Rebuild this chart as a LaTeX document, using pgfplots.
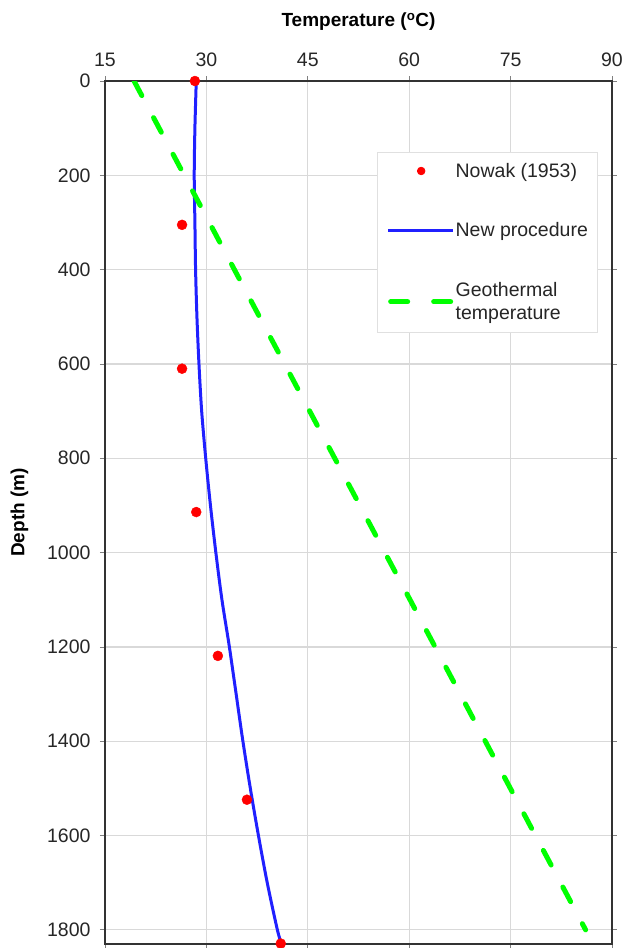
\documentclass[border=0pt]{standalone}
\usepackage{fontspec}
\setmainfont{Liberation Sans}
\usepackage{pgfplots}
\pgfplotsset{compat=1.18}
\definecolor{gridgray}{HTML}{D9D9D9}
\definecolor{geo}{HTML}{00FF00}
\definecolor{newp}{HTML}{2020FF}
\definecolor{nowak}{HTML}{FF0000}
\begin{document}
\begin{tikzpicture}[x=1pt,y=1pt]
\path[use as bounding box] (-105,81) rectangle (524,-867);
\begin{axis}[
  at={(0,0)}, anchor=north west,
  scale only axis, width=507pt, height=863pt,
  xmin=15, xmax=90, ymin=0, ymax=1830, y dir=reverse,
  xtick={15,30,...,90}, ytick={0,200,...,1800},
  xticklabel pos=top,
  xlabel={\textbf{Temperature (\textsuperscript{o}C)}},
  ylabel={\textbf{Depth (m)}},
  label style={font=\fontsize{19}{22}\selectfont},
  xlabel style={yshift=15pt},
  ylabel style={yshift=12pt},
  ticklabel style={font=\fontsize{19.5}{22}\selectfont, text=black!85},
  xticklabel style={yshift=6pt},
  yticklabel style={xshift=-6pt},
  /pgf/number format/assume math mode=true,
  /pgf/number format/1000 sep={},
  grid=major, major grid style={gridgray, line width=1.2pt},
  axis line style={black!80, line width=2.5pt},
  tick align=outside, major tick length=5pt, tick style={black!50, line width=0.8pt},
  legend style={at={(axis description cs:0.537,0.918)}, anchor=north west,
    draw=black!12, line width=0.8pt, inner xsep=9pt, inner ysep=10pt,
    row sep=42pt, font=\fontsize{19.5}{23}\selectfont, text=black!85,
    nodes={align=left, inner sep=1pt}},
  legend cell align=left,
]
\addplot[only marks, mark=*, mark size=5pt, color=nowak,
  legend image code/.code={\fill[nowak] (30pt,0pt) circle (3.8pt);}]
  coordinates {(28.3,0) (26.4,305) (26.4,610) (28.5,914) (31.7,1219) (36.0,1524) (41.0,1829)};
\addlegendentry{Nowak (1953)}
\addplot[newp, line width=3pt, smooth,
  legend image code/.code={\draw[newp, line width=3pt] (-3pt,0pt) -- (62pt,0pt);}]
  coordinates {(28.5,0) (28.3,100) (28.2,200) (28.3,300) (28.4,400) (28.6,500) (28.9,600) (29.3,700) (29.9,800) (30.6,900) (31.4,1000) (32.3,1100) (33.4,1200) (34.4,1300) (35.4,1400) (36.5,1500) (37.7,1600) (39.0,1700) (40.5,1800) (41.1,1829)};
\addlegendentry{New procedure}
\addplot[geo, line width=5pt, line cap=round, dash pattern=on 16.5pt off 25pt,
  legend image code/.code={\draw[geo, line width=5pt, line cap=round, dash pattern=on 17pt off 26pt] (-0.5pt,0pt) -- (59.5pt,0pt);}]
  coordinates {(19.3,0) (86.1,1800)};
\addlegendentry{Geothermal\\temperature}
\end{axis}
\end{tikzpicture}
\end{document}
